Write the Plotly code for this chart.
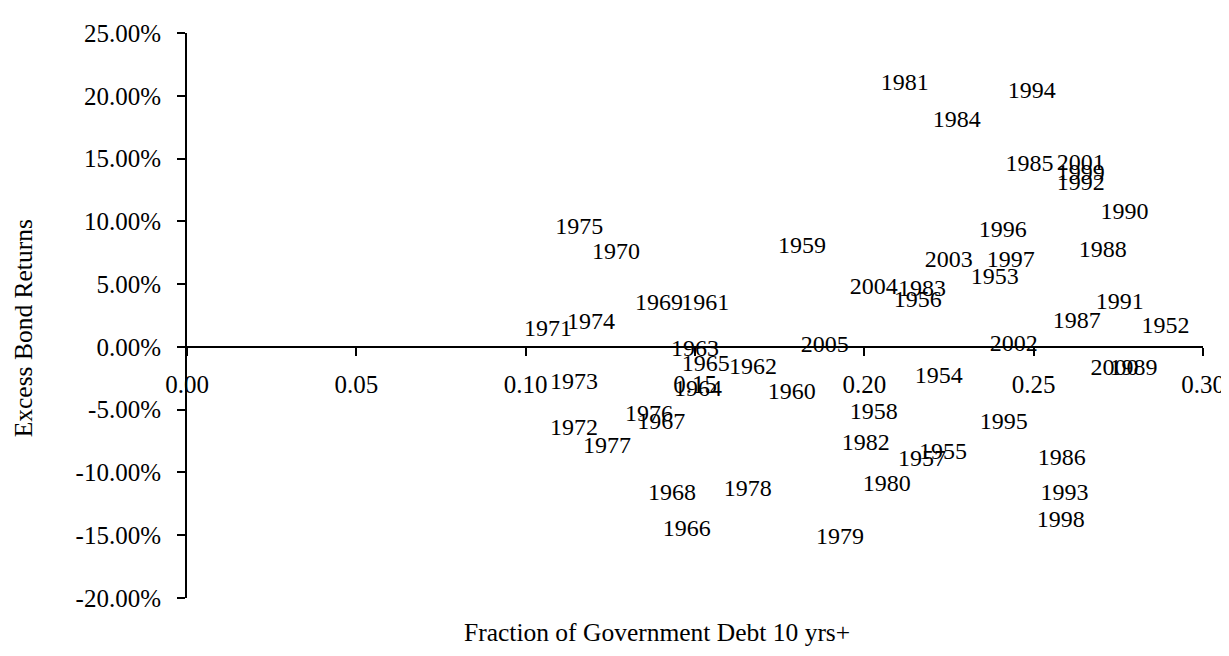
import plotly.graph_objects as go

years = [1952, 1953, 1954, 1955, 1956, 1957, 1958, 1959, 1960, 1961,
         1962, 1963, 1964, 1965, 1966, 1967, 1968, 1969, 1970, 1971,
         1972, 1973, 1974, 1975, 1976, 1977, 1978, 1979, 1980, 1981,
         1982, 1983, 1984, 1985, 1986, 1987, 1988, 1989, 1990, 1991,
         1992, 1993, 1994, 1995, 1996, 1997, 1998, 1999, 2000, 2001,
         2002, 2003, 2004, 2005]

# Fraction of government debt with maturity 10 yrs+
debt_fraction = [0.2889, 0.2385, 0.2220, 0.2232, 0.2158, 0.2170, 0.2028, 0.1816, 0.1786, 0.1530,
                 0.1671, 0.1500, 0.1509, 0.1532, 0.1476, 0.1400, 0.1432, 0.1394, 0.1267, 0.1066,
                 0.1143, 0.1143, 0.1193, 0.1158, 0.1364, 0.1240, 0.1656, 0.1928, 0.2066, 0.2119,
                 0.2004, 0.2170, 0.2273, 0.2488, 0.2583, 0.2627, 0.2704, 0.2795, 0.2768, 0.2754,
                 0.2639, 0.2591, 0.2494, 0.2412, 0.2409, 0.2432, 0.2580, 0.2639, 0.2739, 0.2639,
                 0.2441, 0.2249, 0.2028, 0.1883]

# Excess bond returns (fraction)
excess_returns = [0.0156, 0.0547, -0.0242, -0.0844, 0.0367, -0.0898, -0.0523, 0.0797, -0.0367, 0.0344,
                  -0.0172, -0.0023, -0.0344, -0.0148, -0.1461, -0.0609, -0.1172, 0.0344, 0.0750, 0.0133,
                  -0.0656, -0.0289, 0.0188, 0.0945, -0.0539, -0.0797, -0.1141, -0.1523, -0.1102, 0.2094,
                  -0.0773, 0.0453, 0.1797, 0.1445, -0.0891, 0.0195, 0.0766, -0.0180, 0.1070, 0.0352,
                  0.1297, -0.1172, 0.2031, -0.0609, 0.0922, 0.0688, -0.1383, 0.1375, -0.0180, 0.1453,
                  0.0016, 0.0688, 0.0469, 0.0008]

x_ticks = [0.00, 0.05, 0.10, 0.15, 0.20, 0.25, 0.30]
x_tick_text = ["0.00", "0.05", "0.10", "0.15", "0.20", "0.25", "0.30"]
y_ticks = [-0.20, -0.15, -0.10, -0.05, 0.00, 0.05, 0.10, 0.15, 0.20, 0.25]
y_tick_text = ["-20.00%", "-15.00%", "-10.00%", "-5.00%", "0.00%",
               "5.00%", "10.00%", "15.00%", "20.00%", "25.00%"]

x_title = "Fraction of Government Debt 10 yrs+"
y_title = "Excess Bond Returns"

FONT = "Liberation Serif, Times New Roman, serif"
x_range = [0.0, 0.30]
y_range = [-0.20, 0.25]

fig = go.Figure()
fig.add_trace(go.Scatter(
    x=debt_fraction, y=excess_returns, text=[str(y) for y in years],
    mode="text", textposition="middle center",
    textfont=dict(family=FONT, size=24, color="black"),
    cliponaxis=False, hoverinfo="text", showlegend=False,
))

fig.update_layout(
    width=1229, height=656,
    margin=dict(l=179, r=34, t=16, b=66),
    paper_bgcolor="white", plot_bgcolor="white",
    font=dict(family=FONT, size=24, color="black"),
    xaxis=dict(
        range=x_range, anchor="free",
        position=(0 - y_range[0]) / (y_range[1] - y_range[0]),
        tickvals=x_ticks, ticktext=x_tick_text,
        showline=True, linecolor="black", linewidth=2,
        ticks="outside", ticklen=8, tickwidth=1.5, tickcolor="black",
        ticklabelstandoff=7,
        showgrid=False, zeroline=False,
        tickfont=dict(family=FONT, size=25, color="black"),
    ),
    yaxis=dict(
        range=y_range,
        tickvals=y_ticks, ticktext=y_tick_text,
        showline=True, linecolor="black", linewidth=2,
        ticks="outside", ticklen=8, tickwidth=1.5, tickcolor="black",
        ticklabelstandoff=11,
        showgrid=False, zeroline=False,
        tickfont=dict(family=FONT, size=25, color="black"),
    ),
    annotations=[
        dict(text=x_title, xref="paper", yref="paper", x=0.4626, y=-0.061,
             showarrow=False, xanchor="center", yanchor="middle",
             font=dict(family=FONT, size=25.5, color="black")),
        dict(text=y_title, xref="paper", yref="paper", x=-0.1614, y=0.4774,
             showarrow=False, xanchor="center", yanchor="middle", textangle=-90,
             font=dict(family=FONT, size=25.5, color="black")),
    ],
)

fig.write_html("out.html")
